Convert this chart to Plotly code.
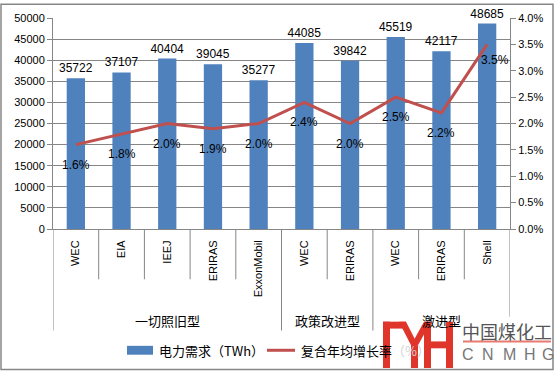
import plotly.graph_objects as go

# ---------------- data ----------------
categories = ["WEC", "EIA", "IEEJ", "ERIRAS", "ExxonMobil", "WEC", "ERIRAS", "WEC", "ERIRAS", "Shell"]
groups = ["一切照旧型", "政策改进型", "激进型"]
group_sizes = [5, 2, 3]
demand = [35722, 37107, 40404, 39045, 35277, 44085, 39842, 45519, 42117, 48685]
growth = [1.6, 1.8, 2.0, 1.9, 2.0, 2.4, 2.0, 2.5, 2.2, 3.5]
left_ticks = [0, 5000, 10000, 15000, 20000, 25000, 30000, 35000, 40000, 45000, 50000]
right_ticks = [0.0, 0.5, 1.0, 1.5, 2.0, 2.5, 3.0, 3.5, 4.0]
series_names = ["电力需求（TWh）", "复合年均增长率（%）"]

# ---------------- layout helpers ----------------
W, H = 555, 373
L, R, T, B = 53, 45, 15, 144
PW, PH = W - L - R, H - T - B


def px(x):
    return (x - L) / PW


def py(y):
    return (H - B - y) / PH


LAT = "Liberation Sans, Arial, Noto Sans CJK SC"
CJK = "Noto Sans CJK SC, Liberation Sans"
GRID = "#868686"
BLUE = "#4F81BD"
RED = "#C0504D"
LOGO = "#E0352B"

xs = list(range(len(categories)))

fig = go.Figure()
fig.add_trace(go.Bar(
    x=xs, y=demand, width=0.4, marker=dict(color=BLUE, line=dict(width=0)),
    text=[str(v) for v in demand], textposition="outside", constraintext="none",
    textfont=dict(size=12, color="#000", family=LAT), cliponaxis=False,
    name=series_names[0], yaxis="y",
))
fig.add_trace(go.Scatter(
    x=xs, y=growth, mode="lines", line=dict(color=RED, width=3),
    name=series_names[1], yaxis="y2",
))

annotations = []
for i, v in enumerate(growth):
    last = i == len(growth) - 1
    annotations.append(dict(
        x=i, y=v, xref="x", yref="y2", text=f"{v:.1f}%", showarrow=False,
        xshift=8 if last else 0, yshift=-16 if last else -20,
        font=dict(size=12, color="#000", family=LAT),
    ))

shapes = []
# category separators
start = 0
bounds_long = {-0.5}
for g in group_sizes:
    start += g
    bounds_long.add(start - 0.5)
for k in range(len(categories) + 1):
    b = k - 0.5
    if b in bounds_long:
        y1 = py(332) if b < len(categories) - 0.5 else py(318)
    else:
        y1 = py(280)
    shapes.append(dict(type="line", xref="x", yref="paper", x0=b, x1=b, y0=0, y1=y1,
                       line=dict(color=GRID, width=1)))

# group labels
start = 0
for name, g in zip(groups, group_sizes):
    center = start + (g - 1) / 2
    annotations.append(dict(x=center, y=py(322), xref="x", yref="paper", text=name,
                            showarrow=False, font=dict(size=13, color="#000", family=CJK),
                            xanchor="center", yanchor="middle"))
    start += g

# custom legend
shapes.append(dict(type="rect", xref="paper", yref="paper", x0=px(127), x1=px(153),
                   y0=py(356.5), y1=py(347.5), fillcolor=BLUE, line=dict(width=0)))
annotations.append(dict(x=px(157), y=py(352), xref="paper", yref="paper", text=series_names[0],
                        showarrow=False, xanchor="left", yanchor="middle",
                        font=dict(size=13, color="#000", family=CJK)))
shapes.append(dict(type="line", xref="paper", yref="paper", x0=px(267), x1=px(295),
                   y0=py(352), y1=py(352), line=dict(color=RED, width=3)))
annotations.append(dict(x=px(299), y=py(352), xref="paper", yref="paper",
                        text="复合年均增长率<span style='color:#d4d4d4'>（%）</span>",
                        showarrow=False, xanchor="left", yanchor="middle",
                        font=dict(size=13, color="#000", family=CJK)))

# watermark logo
shapes.append(dict(type="rect", xref="paper", yref="paper", x0=px(381), x1=px(552),
                   y0=py(370), y1=py(318.5), fillcolor="rgba(255,255,255,0.8)", line=dict(width=0)))


def rect(x0, y0, x1, y1):
    shapes.append(dict(type="rect", xref="paper", yref="paper", x0=px(x0), x1=px(x1),
                       y0=py(y1), y1=py(y0), fillcolor=LOGO, line=dict(width=0)))


def poly(pts):
    path = "M " + " L ".join(f"{px(a)},{py(b)}" for a, b in pts) + " Z"
    shapes.append(dict(type="path", xref="paper", yref="paper", path=path,
                       fillcolor=LOGO, line=dict(width=0)))


rect(383, 323, 390, 370)
rect(383, 323, 406, 330)
poly([(399, 323), (406, 323), (418, 347), (411, 347)])
poly([(424, 323), (431, 323), (418, 347), (411, 347)])
rect(411, 345, 418, 370)
rect(424, 323, 431, 370)
rect(431, 343, 446, 350)
rect(446, 323, 453, 370)
shapes.append(dict(type="line", xref="paper", yref="paper", x0=px(463), x1=px(551),
                   y0=py(343), y1=py(343), line=dict(color="#E87A72", width=2)))
annotations.append(dict(x=px(507), y=py(332), xref="paper", yref="paper", text="中国煤化工",
                        showarrow=False, xanchor="center", yanchor="middle",
                        font=dict(size=18, color="#555", family=CJK)))
for ch, cx in zip("CNMHG", [468, 488, 509, 530, 548]):
    annotations.append(dict(x=px(cx), y=py(356), xref="paper", yref="paper", text=ch,
                            showarrow=False, xanchor="center", yanchor="middle",
                            font=dict(size=16, color="#777", family=LAT)))

# outer border
shapes.append(dict(type="rect", xref="paper", yref="paper", x0=px(1), x1=px(553),
                   y0=py(371.5), y1=py(1), line=dict(color=GRID, width=1.5)))

fig.update_layout(
    width=W, height=H, margin=dict(l=L, r=R, t=T, b=B, pad=0),
    paper_bgcolor="white", plot_bgcolor="white", showlegend=False,
    bargap=0.6,
    xaxis=dict(range=[-0.5, len(categories) - 0.5], tickvals=xs, ticktext=categories,
               tickangle=-90, ticks="", showline=True, linecolor=GRID, linewidth=1,
               showgrid=False, zeroline=False, ticklabelstandoff=6,
               tickfont=dict(size=11, color="#000", family=LAT)),
    yaxis=dict(range=[0, 50000], tickvals=left_ticks, ticktext=[str(v) for v in left_ticks],
               showgrid=True, gridcolor=GRID,
               gridwidth=1, showline=True, linecolor=GRID, ticks="outside", ticklen=5,
               tickcolor=GRID, zeroline=False,
               tickfont=dict(size=11, color="#000", family=LAT)),
    yaxis2=dict(range=[0, 4], tickvals=right_ticks, ticktext=[f"{v:.1f}%" for v in right_ticks],
                overlaying="y", side="right",
                showgrid=False, showline=True, linecolor=GRID, ticks="outside", ticklen=5,
                tickcolor=GRID, zeroline=False,
                tickfont=dict(size=11, color="#000", family=LAT)),
    annotations=annotations, shapes=shapes,
)

fig.write_html("out.html")
